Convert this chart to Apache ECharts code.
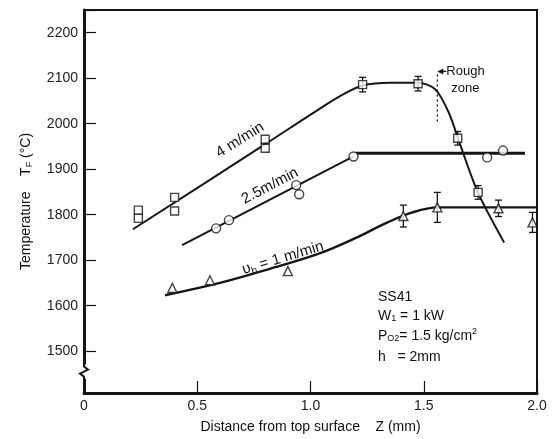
<!DOCTYPE html>
<html><head><meta charset="utf-8">
<script src="https://cdn.jsdelivr.net/npm/echarts@6/dist/echarts.min.js"></script>
<style>html,body{margin:0;padding:0;background:#fff}#c{width:554px;height:439px}</style>
</head><body><div id="c"></div>
<script>
// ---- data ----
const xTickValues = [0, 0.5, 1.0, 1.5, 2.0];
const yTickLabels = [1500, 1600, 1700, 1800, 1900, 2000, 2100, 2200];

// 4 m/min (squares)
const sq4X   = [0.24, 0.24, 0.40, 0.40, 0.80, 0.80, 1.23, 1.475, 1.65, 1.74];
const sq4Y   = [1810, 1792, 1838, 1808, 1966, 1946, 2086, 2088, 1968, 1849];
const sq4Err = [0, 0, 0, 0, 0, 0, 16, 16, 15, 15];
const curve4X = [0.216, 0.80, 1.05, 1.15, 1.23, 1.35, 1.475, 1.55, 1.61, 1.66, 1.74, 1.855];
const curve4Y = [1768, 1955, 2036, 2066, 2084, 2090, 2090, 2076, 2025, 1955, 1848, 1739];

// 2.5 m/min (circles)
const c25X = [0.583, 0.64, 0.937, 0.95, 1.19, 1.78, 1.85];
const c25Y = [1770, 1788, 1865, 1845, 1928, 1926, 1941];
const curve25X = [0.433, 1.19];
const curve25Y = [1733, 1928];
const flat25X = [1.20, 1.947];
const flat25Y = [1935, 1935];

// 1 m/min (triangles)
const t1X   = [0.39, 0.556, 0.90, 1.41, 1.56, 1.83, 1.98];
const t1Y   = [1639, 1656, 1676, 1797, 1816, 1814, 1783];
const t1Err = [0, 0, 0, 24, 33, 18, 22];
const curve1X = [0.358, 0.60, 0.82, 1.04, 1.20, 1.34, 1.45, 1.56, 2.0];
const curve1Y = [1623, 1650, 1681, 1715, 1749, 1783, 1805, 1816, 1816];

// rough zone marker
const roughX = [1.56, 1.56];
const roughY = [2005, 2115];

const zip = (a, b, c) => a.map((v, i) => c ? [v, b[i], c[i]] : [v, b[i]]);

const INK = '#151515';
const FONT = "'Liberation Sans', Arial, sans-serif";

function errItem(params, api) {
  const x = api.value(0), y = api.value(1), e = api.value(2);
  if (!e) return null;
  const t = api.coord([x, y + e]), b = api.coord([x, y - e]);
  const w = 3.5, st = { stroke: INK, lineWidth: 1.3 };
  return { type: 'group', children: [
    { type: 'line', shape: { x1: t[0], y1: t[1], x2: b[0], y2: b[1] }, style: st },
    { type: 'line', shape: { x1: t[0] - w, y1: t[1], x2: t[0] + w, y2: t[1] }, style: st },
    { type: 'line', shape: { x1: b[0] - w, y1: b[1], x2: b[0] + w, y2: b[1] }, style: st }
  ]};
}

const lineStyle = (w) => ({ color: INK, width: w });
const markerStyle = { color: '#fff', borderColor: INK, borderWidth: 1.4 };

const chart = echarts.init(document.getElementById('c'), null, { renderer: 'canvas' });
chart.setOption({
  animation: false,
  backgroundColor: '#fff',
  grid: { left: 84, right: 17, top: 10, bottom: 45, show: true, borderColor: INK, borderWidth: 2, backgroundColor: 'transparent' },
  xAxis: {
    type: 'value', min: 0, max: 2.0, interval: 0.5,
    axisLine: { show: true, onZero: false, lineStyle: { color: INK, width: 3 } },
    axisTick: { show: true, inside: true, length: 12, lineStyle: { color: INK, width: 1.2 } },
    splitLine: { show: false },
    axisLabel: { color: '#222', fontSize: 14, fontFamily: FONT, margin: 6,
      formatter: v => (v === 0 ? '0' : v.toFixed(1)) },
    name: 'Distance from top surface    Z (mm)', nameLocation: 'middle', nameGap: 27,
    nameTextStyle: { color: '#111', fontSize: 14, fontFamily: FONT }
  },
  yAxis: {
    type: 'value', min: 1408, max: 2250, splitNumber: 8,
    axisLine: { show: true, lineStyle: { color: INK, width: 3 } },
    axisTick: { show: true, inside: true, length: 12, lineStyle: { color: INK, width: 1.2 } },
    splitLine: { show: false },
    axisLabel: { color: '#222', fontSize: 14, fontFamily: FONT, margin: 6,
      formatter: v => (yTickLabels.indexOf(v) >= 0 ? String(v) : '') },
    name: '{n|Temperature    T}{s|F}{n| (°C)}', nameLocation: 'middle', nameGap: 50, nameRotate: 90,
    nameTextStyle: { rich: {
      n: { color: '#111', fontSize: 14, fontFamily: FONT },
      s: { color: '#111', fontSize: 9, fontFamily: FONT, verticalAlign: 'bottom', padding: [6, 0, 0, 0] }
    } }
  },
  series: [
    { type: 'line', data: zip(curve4X, curve4Y), smooth: 0.3, showSymbol: false, lineStyle: lineStyle(2), z: 2 },
    { type: 'line', data: zip(curve25X, curve25Y), showSymbol: false, lineStyle: lineStyle(2), z: 2 },
    { type: 'line', data: zip(flat25X, flat25Y), showSymbol: false, lineStyle: lineStyle(3), z: 2 },
    { type: 'line', data: zip(curve1X, curve1Y), smooth: 0.35, showSymbol: false, lineStyle: lineStyle(2.4), z: 2 },
    { type: 'line', data: zip(roughX, roughY), showSymbol: false, lineStyle: { color: INK, width: 1.3, type: [2, 3] }, z: 2 },
    { type: 'custom', renderItem: errItem, data: zip(sq4X, sq4Y, sq4Err), z: 3 },
    { type: 'custom', renderItem: errItem, data: zip(t1X, t1Y, t1Err), z: 3 },
    { type: 'scatter', data: zip(sq4X, sq4Y), symbol: 'rect', symbolSize: 8, itemStyle: markerStyle, z: 4 },
    { type: 'scatter', data: zip(c25X, c25Y), symbol: 'circle', symbolSize: 9, itemStyle: markerStyle, z: 4 },
    { type: 'scatter', data: zip(t1X, t1Y), symbol: 'triangle', symbolSize: 9, itemStyle: markerStyle, z: 4 }
  ]
});

// ---- annotations ----
const p = (x, y) => chart.convertToPixel({ gridIndex: 0 }, [x, y]);
const brk = p(0, 1455);
const rt = p(roughX[1], roughY[1]);
const txt = (x, y, text, rot, size, align) => ({
  type: 'text', x: x, y: y, rotation: rot || 0, z: 10,
  style: { text: text, font: (size || 14) + 'px ' + FONT, fill: '#111',
           textAlign: align || 'center', textVerticalAlign: 'middle' }
});
chart.setOption({
  graphic: [
    { type: 'rect', shape: { x: brk[0] - 3, y: brk[1] - 7, width: 6, height: 14 }, style: { fill: '#fff' }, z: 20 },
    { type: 'polyline', shape: { points: [[brk[0], brk[1] - 8], [brk[0], brk[1] - 5], [brk[0] + 4, brk[1] - 2], [brk[0] - 4, brk[1] + 2], [brk[0], brk[1] + 5], [brk[0], brk[1] + 8]] },
      style: { stroke: INK, lineWidth: 2, fill: null }, z: 21 },
    txt(240, 140, '4 m/min', 0.56, 15),
    txt(270, 186, '2.5m/min', 0.48, 15),
    {
      type: 'text', x: 283, y: 258, rotation: 0.29, z: 10,
      style: { rich: { n: { fontSize: 15, fontFamily: FONT, fill: '#111' }, s: { fontSize: 10, fontFamily: FONT, fill: '#111', padding: [8, 0, 0, 0] } },
               text: '{n|υ}{s|b}{n| = 1 m/min}', textAlign: 'center', textVerticalAlign: 'middle' }
    },
    { type: 'polygon', shape: { points: [[rt[0], rt[1]], [rt[0] + 6, rt[1] - 3], [rt[0] + 6, rt[1] + 3]] }, style: { fill: INK }, z: 10 },
    { type: 'line', shape: { x1: rt[0] + 5, y1: rt[1], x2: rt[0] + 9, y2: rt[1] }, style: { stroke: INK, lineWidth: 1.3 }, z: 10 },
    txt(rt[0] + 9, rt[1], 'Rough', 0, 13, 'left'),
    txt(rt[0] + 14, rt[1] + 17, 'zone', 0, 13, 'left'),
    txt(378, 297, 'SS41', 0, 14, 'left'),
    {
      type: 'text', x: 378, y: 316, z: 10,
      style: { rich: { n: { fontSize: 14, fontFamily: FONT, fill: '#111' }, s: { fontSize: 9, fontFamily: FONT, fill: '#111', padding: [6, 0, 0, 0] } },
               text: '{n|W}{s|1}{n| = 1 kW}', textAlign: 'left', textVerticalAlign: 'middle' }
    },
    {
      type: 'text', x: 378, y: 336, z: 10,
      style: { rich: { n: { fontSize: 14, fontFamily: FONT, fill: '#111' }, s: { fontSize: 9, fontFamily: FONT, fill: '#111', padding: [6, 0, 0, 0] }, u: { fontSize: 9, fontFamily: FONT, fill: '#111', padding: [0, 0, 8, 0] } },
               text: '{n|P}{s|O2}{n|= 1.5 kg/cm}{u|2}', textAlign: 'left', textVerticalAlign: 'middle' }
    },
    txt(378, 357, 'h   = 2mm', 0, 14, 'left')
  ]
});
</script></body></html>
